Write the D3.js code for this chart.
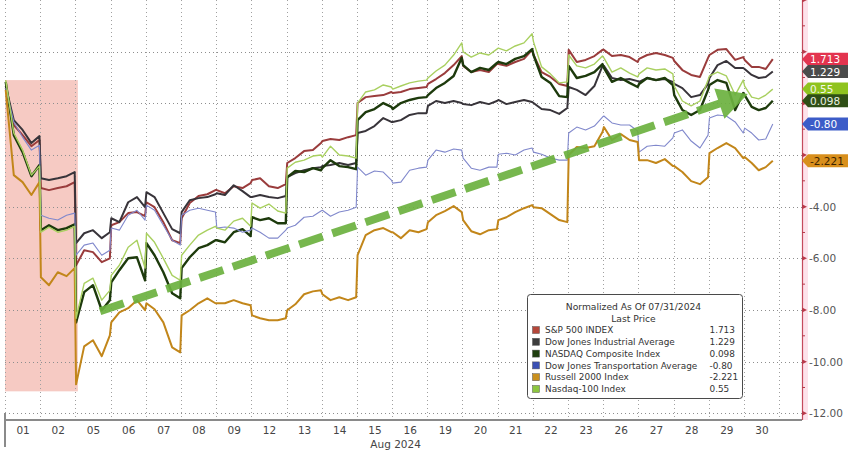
<!DOCTYPE html>
<html><head><meta charset="utf-8">
<script src="https://cdn.jsdelivr.net/npm/d3@7"></script>
<style>
body{margin:0;background:#fff;}
svg{display:block;font-family:"DejaVu Sans",sans-serif;}
</style>
</head><body>
<svg id="c" width="848" height="456"></svg>
<script>
// ---------- data ----------
const days = ["01","02","05","06","07","08","09","12","13","14","15","16","19","20","21","22","23","26","27","28","29","30"];
const monthLabel = "Aug 2024";
// sample points inside each session (fraction of the trading day)
const sessionFractions = [0.02, 0.25, 0.5, 0.75, 0.98];
const lastSessionFractions = [0.02, 0.22, 0.42, 0.62, 0.82];

const spx = [
0.59,-0.84,-1.23,-1.66,-1.42,
-3.28,-3.36,-3.28,-3.21,-3.05,
-6.27,-5.69,-5.76,-6.15,-6.00,
-4.72,-4.60,-4.25,-4.21,-4.37,
-3.83,-4.02,-4.60,-5.30,-5.41,
-4.45,-3.86,-3.59,-3.52,-3.36,
-3.36,-3.48,-3.21,-3.28,-3.09,
-2.97,-2.90,-3.21,-3.28,-3.13,
-2.31,-2.12,-1.85,-1.81,-1.54,
-1.46,-1.38,-1.42,-1.31,-1.23,
0.01,0.24,0.28,0.32,0.44,
0.40,0.44,0.55,0.59,0.63,
0.75,0.94,1.17,1.48,1.83,
1.45,1.21,1.29,1.21,1.52,
1.52,1.45,1.60,1.72,2.07,
1.87,1.21,1.02,0.75,0.67,
2.07,1.60,1.68,1.83,2.07,
2.07,1.83,1.87,1.79,1.60,
1.72,1.87,1.95,1.87,1.76,
1.64,1.29,1.10,1.02,1.76,
1.87,2.07,2.10,1.68,1.79,
1.68,1.41,1.41,1.33,1.71];

const dow = [
0.67,-0.65,-1.03,-1.54,-1.27,
-2.90,-2.97,-2.90,-2.82,-2.66,
-5.41,-5.03,-4.91,-5.22,-4.99,
-4.45,-4.60,-3.83,-3.63,-4.02,
-3.44,-3.63,-4.25,-4.87,-5.03,
-4.21,-3.75,-3.67,-3.63,-3.52,
-3.48,-3.55,-3.17,-3.40,-3.63,
-3.63,-3.55,-3.63,-3.67,-3.59,
-2.86,-2.70,-2.59,-2.51,-2.47,
-2.43,-2.39,-2.31,-2.39,-2.31,
-1.15,-1.07,-0.88,-0.57,-0.72,
-0.72,-0.65,-0.45,-0.38,-0.38,
-0.10,0.09,0.01,0.09,0.01,
-0.03,-0.07,0.05,-0.03,0.09,
0.13,-0.03,0.05,0.13,0.05,
0.01,-0.22,-0.26,-0.41,-0.18,
0.63,0.52,0.32,0.67,1.45,
1.45,0.98,0.90,0.94,0.86,
0.83,0.98,0.90,0.94,0.83,
0.75,0.59,0.24,0.32,0.75,
0.98,1.48,1.64,1.37,1.37,
1.33,1.10,0.98,1.02,1.23];

const ccmp = [
0.83,-1.23,-1.89,-2.82,-2.39,
-4.91,-4.72,-4.91,-4.83,-4.68,
-8.48,-7.31,-7.04,-8.01,-7.62,
-6.93,-6.46,-6.00,-5.96,-6.85,
-5.41,-5.88,-6.54,-7.35,-7.55,
-6.38,-5.96,-5.61,-5.49,-5.30,
-5.30,-5.38,-4.99,-4.87,-5.14,
-4.41,-4.52,-4.45,-4.64,-4.64,
-2.86,-2.62,-2.66,-2.51,-2.59,
-2.51,-2.20,-2.43,-2.47,-2.55,
-0.65,-0.34,-0.22,0.01,-0.14,
-0.22,0.01,0.13,0.21,0.24,
0.32,0.59,0.79,1.06,1.76,
1.48,1.21,1.37,1.29,1.56,
1.60,1.52,1.72,1.83,2.10,
1.87,1.02,0.79,0.28,0.24,
1.45,0.98,1.06,1.21,1.52,
1.37,0.83,0.98,0.79,0.63,
0.75,0.98,0.90,0.98,0.71,
0.32,-0.26,-0.45,-0.26,0.52,
0.71,0.90,0.79,-0.26,0.40,
0.32,-0.14,-0.26,-0.18,0.10];

const tran = [
0.59,-0.72,-1.31,-1.81,-1.62,
-4.33,-4.45,-4.52,-4.33,-4.25,
-5.88,-5.49,-5.41,-5.88,-5.69,
-4.83,-4.91,-4.33,-4.14,-4.52,
-3.94,-4.14,-4.72,-5.30,-5.49,
-4.33,-4.14,-4.06,-4.14,-4.21,
-4.83,-4.79,-4.83,-4.99,-4.91,
-4.83,-4.99,-5.22,-5.22,-4.91,
-4.83,-4.72,-4.41,-4.37,-4.17,
-4.14,-4.37,-4.21,-4.14,-4.02,
-2.47,-2.78,-2.62,-2.66,-2.97,
-3.09,-3.05,-2.59,-2.51,-2.47,
-2.20,-1.81,-1.89,-1.77,-1.81,
-2.12,-2.51,-2.59,-2.47,-2.47,
-1.97,-1.93,-2.00,-1.81,-1.73,
-1.89,-1.97,-2.12,-2.20,-2.20,
-1.15,-0.92,-1.03,-0.88,-0.53,
-0.49,-0.76,-0.84,-0.84,-1.07,
-1.89,-1.66,-1.62,-1.66,-1.34,
-1.15,-1.03,-1.46,-1.73,-1.23,
-0.57,-0.45,-0.49,-0.72,-1.15,
-0.96,-1.15,-1.42,-1.38,-0.80];

const rty = [
0.52,-2.78,-3.05,-3.55,-3.05,
-6.73,-7.04,-6.54,-6.69,-6.38,
-10.88,-9.41,-9.17,-9.79,-8.98,
-8.48,-8.09,-7.93,-7.62,-8.01,
-7.74,-7.97,-8.48,-9.45,-9.64,
-8.21,-8.01,-7.74,-7.55,-7.74,
-7.74,-7.74,-7.62,-7.74,-7.82,
-8.21,-8.32,-8.40,-8.40,-8.32,
-8.01,-7.78,-7.39,-7.28,-7.24,
-7.39,-7.62,-7.51,-7.62,-7.51,
-5.88,-5.10,-4.91,-4.83,-4.99,
-4.99,-5.22,-4.91,-4.99,-4.87,
-4.60,-4.33,-4.17,-3.98,-4.21,
-4.52,-4.95,-5.07,-4.91,-4.87,
-4.52,-4.41,-4.21,-4.06,-3.94,
-4.02,-4.06,-4.29,-4.52,-4.60,
-2.00,-1.69,-1.73,-1.66,-1.11,
-0.92,-1.42,-1.19,-1.42,-1.50,
-2.20,-2.20,-2.31,-2.16,-2.43,
-2.43,-2.66,-3.01,-3.13,-2.86,
-1.93,-1.73,-1.54,-1.73,-2.12,
-2.08,-2.31,-2.59,-2.47,-2.22];

const ndx = [
0.90,-1.15,-1.81,-2.78,-2.43,
-4.99,-4.79,-4.99,-4.91,-4.76,
-8.32,-6.97,-6.77,-7.62,-7.24,
-6.66,-6.27,-5.57,-5.30,-6.38,
-5.03,-5.38,-6.00,-6.66,-6.85,
-5.88,-5.49,-5.10,-4.91,-4.76,
-4.83,-4.91,-4.56,-4.45,-4.76,
-3.86,-4.06,-3.90,-4.17,-4.25,
-2.51,-2.28,-2.20,-2.04,-2.00,
-2.08,-1.66,-2.00,-2.04,-2.12,
0.01,0.44,0.52,0.71,0.63,
0.55,0.67,0.79,0.86,0.90,
0.98,1.25,1.48,1.87,2.34,
1.99,1.79,1.95,1.87,2.10,
2.14,2.03,2.22,2.34,2.69,
2.38,1.41,1.14,0.79,0.83,
1.87,1.45,1.37,1.52,1.83,
1.76,1.21,1.37,1.17,1.02,
1.14,1.37,1.29,1.33,1.14,
0.67,0.09,-0.10,0.09,0.90,
1.06,1.21,1.06,0.32,0.90,
0.67,0.24,0.17,0.32,0.55];

const seriesNames = ["S&P 500 INDEX","Dow Jones Industrial Average","NASDAQ Composite Index","Dow Jones Transportation Average","Russell 2000 Index","Nasdaq-100 Index"];
const lastPrices  = ["1.713","1.229","0.098","-0.80","-2.221","0.55"];
const legendTitle = ["Normalized As Of 07/31/2024","Last Price"];
const yTickLabels = [-4,-6,-8,-10,-12];
// shaded window (trading-day units / values) and trend arrow annotation
const shade = {t0:0, t1:2.07, v0:0.9, v1:-11.15};
const arrow = {t0:2.70, v0:-8.05, t1:21.11, v1:0.36};

// ---------- styles ----------
const lineColors = ["#9a3c3c","#38343a","#1d3a0c","#8088cc","#c2861a","#a9d060"];
const lineWidths = [2,2,2.4,1.1,2,1.4];
const swatchColors = ["#b5473a","#3d3d3d","#1f3f0f","#3a50b4","#c9901e","#8dc63f"];
const tagColors = ["#e3344f","#4b4b4b","#2f4f16","#3c5cc8","#d88f1c","#8fc31f"];
const tagText = ["#fff","#fff","#e8f0e0","#fff","#3a2200","#f4f8ea"];

const svg = d3.select("#c");
const x = d3.scaleLinear().domain([0, 22.65]).range([5, 802]);
const y = d3.scaleLinear().domain([-12, 4]).range([413.3, 0]);

function toPoints(vals){
  return vals.map((v,i)=>{
    const d = Math.floor(i/5), k = i%5;
    const f = (d===days.length-1 ? lastSessionFractions : sessionFractions)[k];
    return {t:d+f, v:v};
  });
}
const allSeries = [spx,dow,ccmp,tran,rty,ndx].map(toPoints);

// shaded region
svg.append("rect")
  .attr("x", x(shade.t0)).attr("y", y(shade.v0))
  .attr("width", x(shade.t1)-x(shade.t0)).attr("height", y(shade.v1)-y(shade.v0))
  .attr("fill","#f5c4bd").attr("opacity",0.9);

// gridlines
const grid = svg.append("g");
grid.selectAll("line.h").data(d3.range(-12,3,2)).join("line")
  .attr("x1",5).attr("x2",802)
  .attr("y1",d=>Math.round(y(d))+0.5).attr("y2",d=>Math.round(y(d))+0.5)
  .attr("stroke","#8e8e8e").attr("stroke-dasharray","1,3");
grid.selectAll("line.v").data(d3.range(0,days.length+1)).join("line")
  .attr("x1",d=>Math.round(x(d))+0.5).attr("x2",d=>Math.round(x(d))+0.5)
  .attr("y1",0).attr("y2",420)
  .attr("stroke","#a0a0a0").attr("stroke-dasharray","1,3");

// lines
const line = d3.line().x(d=>x(d.t)).y(d=>y(d.v)).curve(d3.curveLinear);
svg.append("g").selectAll("path").data(allSeries).join("path")
  .attr("d", line).attr("fill","none")
  .attr("stroke",(d,i)=>lineColors[i]).attr("stroke-width",(d,i)=>lineWidths[i])
  .attr("stroke-linejoin","round");

// trend arrow
(function(){
  const p0=[x(arrow.t0),y(arrow.v0)], p1=[x(arrow.t1),y(arrow.v1)];
  const dx=p1[0]-p0[0], dy=p1[1]-p0[1], L=Math.hypot(dx,dy), ux=dx/L, uy=dy/L;
  const hl=30, hw=16;
  const b=[p1[0]-ux*hl, p1[1]-uy*hl];
  const g=svg.append("g").attr("opacity",0.92);
  g.append("line").attr("x1",p0[0]).attr("y1",p0[1]).attr("x2",b[0]+ux*4).attr("y2",b[1]+uy*4)
    .attr("stroke","#6cb13f").attr("stroke-width",8).attr("stroke-dasharray","25,10");
  g.append("path").attr("d",`M${p1[0]},${p1[1]}L${b[0]-uy*hw},${b[1]+ux*hw}L${b[0]+uy*hw},${b[1]-ux*hw}Z`)
    .attr("fill","#6cb13f");
})();

// bottom axis
svg.append("line").attr("x1",5).attr("x2",802).attr("y1",420).attr("y2",420).attr("stroke","#8a8a8a").attr("stroke-width",2);
svg.append("line").attr("x1",5).attr("x2",5).attr("y1",413).attr("y2",447).attr("stroke","#8a8a8a").attr("stroke-width",2);
const xAxis = d3.axisBottom(x).tickValues(days.map((d,i)=>i+0.5)).tickFormat((d,i)=>days[i]).tickSize(0).tickPadding(0);
const gx = svg.append("g").attr("transform","translate(0,427)").call(xAxis);
gx.select(".domain").remove();
gx.selectAll("text").attr("font-size",10.5).attr("fill","#454545").attr("font-family","DejaVu Sans");
svg.append("text").attr("x",x(11.1)).attr("y",448).attr("text-anchor","middle")
  .attr("font-size",10.5).attr("fill","#454545").text(monthLabel);

// right axis
svg.append("rect").attr("x",802).attr("y",0).attr("width",6).attr("height",420).attr("fill","#fde2ea");
svg.append("line").attr("x1",802.5).attr("x2",802.5).attr("y1",0).attr("y2",420).attr("stroke","#c44a5c").attr("stroke-width",1.2);
svg.append("g").selectAll("path").data(d3.range(-12,5,2)).join("path")
  .attr("d",d=>{const yy=y(d);return `M802,${yy-2.5}L807,${yy}L802,${yy+2.5}Z`;}).attr("fill","#b83a4a");
svg.append("g").selectAll("line").data(d3.range(-11,4,2)).join("line")
  .attr("x1",802).attr("x2",805).attr("y1",d=>y(d)).attr("y2",d=>y(d)).attr("stroke","#b83a4a");
const yAxis = d3.axisRight(y).tickValues(yTickLabels).tickFormat(d=>d.toFixed(2)).tickSize(0).tickPadding(0);
const gy = svg.append("g").attr("transform","translate(809,0)").call(yAxis);
gy.select(".domain").remove();
gy.selectAll("text").attr("font-size",10.5).attr("fill","#555").attr("font-family","DejaVu Sans");

// last-value tags
const tagOrder = [0,1,5,2,3,4];
const tags = svg.append("g");
tagOrder.forEach(i=>{
  const pts = allSeries[i], yy = y(pts[pts.length-1].v);
  tags.append("path").attr("d",`M802,${yy}L808,${yy-6.5}L848,${yy-6.5}L848,${yy+6.5}L808,${yy+6.5}Z`).attr("fill",tagColors[i]);
  tags.append("text").attr("x",810).attr("y",yy+4).attr("font-size",10.5).attr("fill",tagText[i]).text(lastPrices[i]);
});

// legend
const lg = svg.append("g").attr("transform","translate(527.5,294.5)");
lg.append("rect").attr("width",215).attr("height",104).attr("rx",3).attr("fill","#fff").attr("stroke","#4a4a4a");
lg.selectAll("text.t").data(legendTitle).join("text").attr("x",106).attr("y",(d,i)=>15+i*12.5)
  .attr("text-anchor","middle").attr("font-size",9.2).attr("fill","#333").text(d=>d);
const rowsG = lg.selectAll("g.r").data(seriesNames).join("g").attr("transform",(d,i)=>`translate(0,${35.5+i*11.8})`);
rowsG.append("rect").attr("x",5).attr("y",-3.5).attr("width",7).attr("height",7)
  .attr("fill",(d,i)=>swatchColors[i]).attr("stroke","#555").attr("stroke-width",0.5);
rowsG.append("text").attr("x",17.5).attr("y",3.2).attr("font-size",8.9).attr("fill","#333").text(d=>d);
rowsG.append("text").attr("x",182).attr("y",3.2).attr("font-size",8.9).attr("fill","#333").text((d,i)=>lastPrices[i]);
</script>
</body></html>
